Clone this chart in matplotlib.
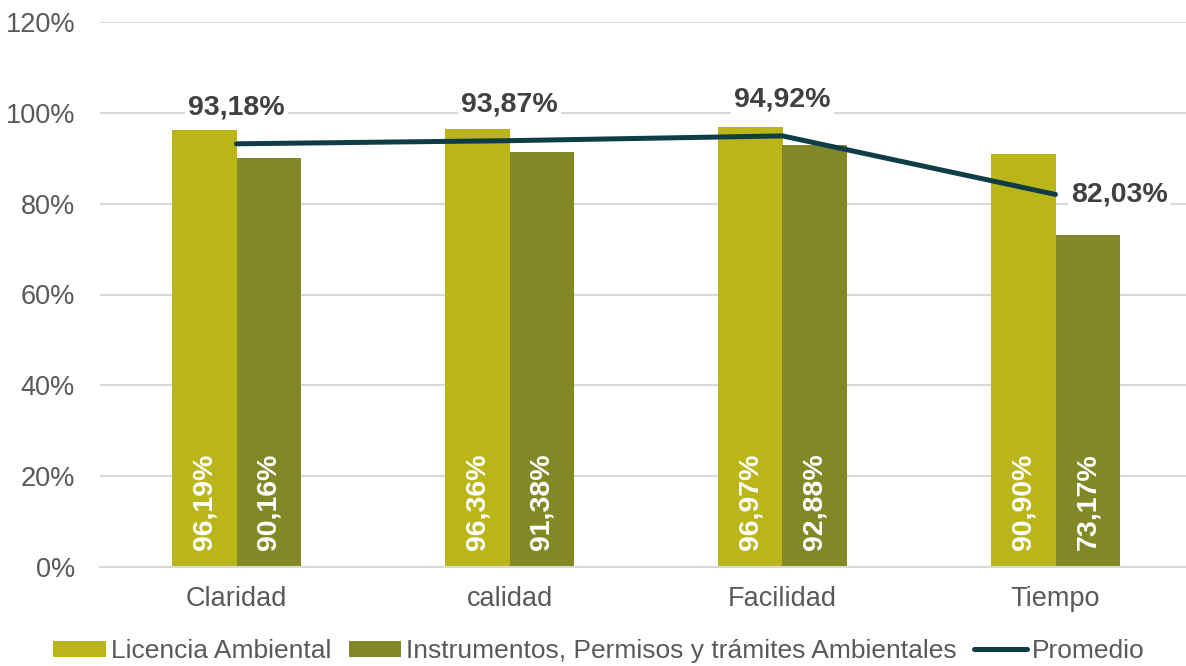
import numpy as np
import matplotlib
matplotlib.use('Agg')
import matplotlib.pyplot as plt
from matplotlib.ticker import FuncFormatter

plt.rcParams['font.family'] = ['Liberation Sans', 'DejaVu Sans']

categories = ['Claridad', 'calidad', 'Facilidad', 'Tiempo']
licencia = [96.19, 96.36, 96.97, 90.90]
instrumentos = [90.16, 91.38, 92.88, 73.17]
promedio = [93.18, 93.87, 94.92, 82.03]
series_names = ['Licencia Ambiental',
                'Instrumentos, Permisos y trámites Ambientales',
                'Promedio']

c_lic = '#BAB619'
c_ins = '#838827'
c_line = '#0E3D45'
c_text = '#595959'
c_grid = '#D9D9D9'


def fmt(v):
    return f'{v:.2f}%'.replace('.', ',')


fig = plt.figure(figsize=(11.86, 6.66), dpi=100)
ax = fig.add_axes([100 / 1186, 1 - 567 / 666, 1092 / 1186, 545 / 666])

x = np.arange(len(categories))
w = 0.238
b1 = ax.bar(x - w / 2, licencia, w, color=c_lic, label=series_names[0], zorder=2)
b2 = ax.bar(x + w / 2, instrumentos, w, color=c_ins, label=series_names[1], zorder=2)
ln, = ax.plot(x, promedio, color=c_line, lw=3.6, solid_capstyle='round',
              label=series_names[2], zorder=3)

# values inside bars
for xs, vals in [(x - w / 2, licencia), (x + w / 2, instrumentos)]:
    for xi, v in zip(xs, vals):
        ax.annotate(fmt(v), (xi, 0), xytext=(0, 12), textcoords='offset points',
                    rotation=90, ha='center', va='bottom', color='white',
                    fontsize=20.5, fontweight='bold', zorder=4)

# average labels
for i, v in enumerate(promedio):
    if i == len(promedio) - 1:
        off, ha, va = (11, 0), 'left', 'center'
    else:
        off, ha, va = (0, 17), 'center', 'bottom'
    ax.annotate(fmt(v), (x[i], v), xytext=off, textcoords='offset points',
                ha=ha, va=va, color='#404040', fontsize=20.5, fontweight='bold',
                bbox=dict(facecolor='white', edgecolor='none', pad=2), zorder=5)

ax.set_xlim(-0.5, 3.5)
ax.set_ylim(0, 120)
ax.set_yticks(np.arange(0, 121, 20))
ax.yaxis.set_major_formatter(FuncFormatter(lambda v, p: f'{v:.0f}%'))
ax.set_xticks(x)
ax.set_xticklabels(categories)
ax.tick_params(axis='both', length=0, labelsize=19.5, labelcolor=c_text)
ax.tick_params(axis='y', pad=18)
ax.tick_params(axis='x', pad=14)
ax.grid(axis='y', color=c_grid, lw=1.5, zorder=0)
for s in ['top', 'right', 'left']:
    ax.spines[s].set_visible(False)
ax.spines['bottom'].set_color(c_grid)
ax.spines['bottom'].set_linewidth(1.5)

leg = fig.legend(handles=[b1, b2, ln], loc='center',
                 bbox_to_anchor=(599 / 1186, 1 - 651 / 666),
                 ncol=3, frameon=False, fontsize=19, handlelength=2.0,
                 handleheight=0.55, handletextpad=0.19, columnspacing=0.65,
                 borderaxespad=0)
for t in leg.get_texts():
    t.set_color(c_text)

fig.savefig('out.png', dpi=100)
